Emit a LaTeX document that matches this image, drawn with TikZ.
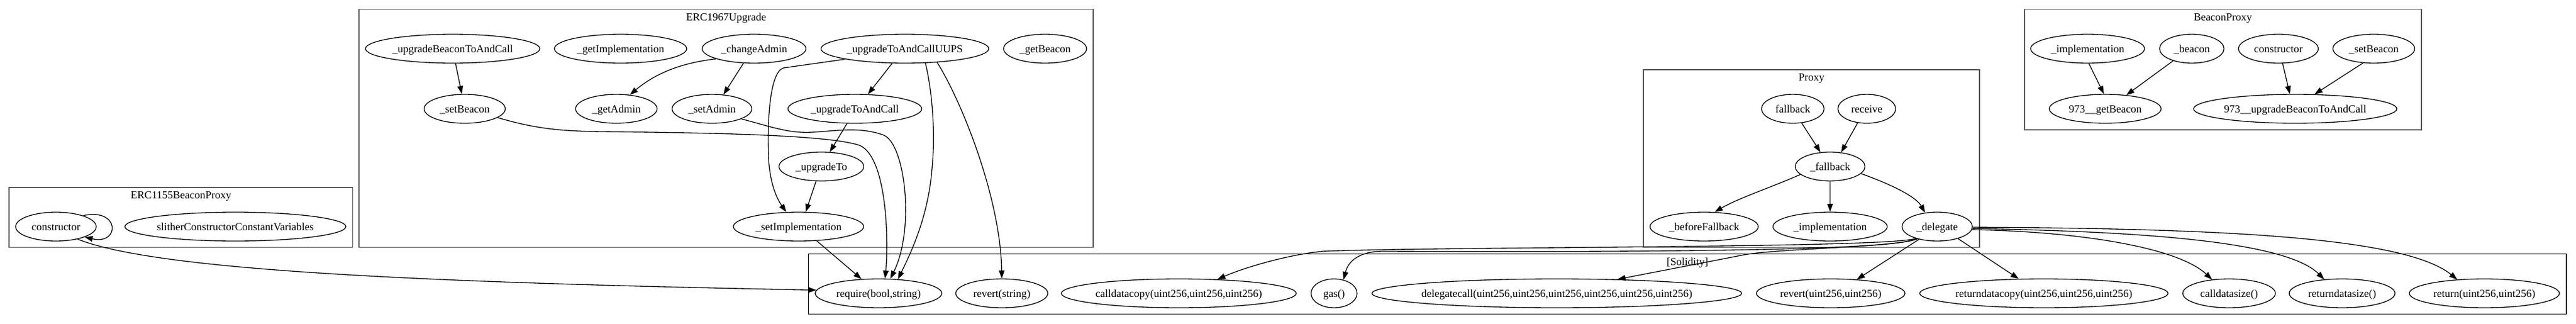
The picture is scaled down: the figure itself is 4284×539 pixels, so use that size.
\documentclass[tikz,border=0pt]{standalone}
\usepackage{fontspec}
\setmainfont{Liberation Serif}
\usetikzlibrary{arrows.meta,shapes.geometric}
\definecolor{cgray}{RGB}{85,85,85}
\newcommand\mkell[5]{\node[ell, minimum width=#4*0.75pt] (#1) at (#2,#3) {\makebox[0pt]{#5}};}
\begin{document}
\begin{tikzpicture}[x=0.75pt,y=-0.75pt,
  ell/.style={draw, ellipse, line width=1pt, minimum height=36pt, inner sep=0pt, text height=11.3pt, text depth=2.0pt, font=\fontsize{13.5pt}{16pt}\selectfont},
  clabel/.style={anchor=base, inner sep=0pt, font=\fontsize{13.5pt}{16pt}\selectfont},
  cframe/.style={draw=cgray, line width=1.4pt},
  sframe/.style={draw=black, line width=1pt},
  conn/.style={draw, line width=1pt, -{Triangle[length=10pt,width=7pt]}}]
\useasboundingbox (0,0) rectangle (4284,539);
% clusters
\draw[cframe] (15.4,311.8) rectangle (586.5,411.5);
\draw[cframe] (597,15.5) rectangle (1818,411.5);
\draw[cframe] (2733,116) rectangle (3292,411.5);
\draw[cframe] (3366.6,15.5) rectangle (4026.8,216);
\draw[sframe] (1344.8,422.5) rectangle (4268,522.5);
\node[clabel] (lab1) at (301,330.7) {ERC1155BeaconProxy};
\node[clabel] (lab2) at (1207.5,34.4) {ERC1967Upgrade};
\node[clabel] (lab3) at (3012.5,134.9) {Proxy};
\node[clabel] (lab4) at (3696.7,34.4) {BeaconProxy};
\node[clabel] (lab5) at (2806.4,441.4) {[Solidity]};
% ERC1155BeaconProxy
\mkell{e1cons}{93}{377}{134}{constructor}
\mkell{e1slither}{391.4}{377}{367.6}{slitherConstructorConstantVariables}
% ERC1967Upgrade
\mkell{upBeacon}{752.8}{81}{290}{\_upgradeBeaconToAndCall}
\mkell{getImpl}{1032}{81}{220}{\_getImplementation}
\mkell{changeAdmin}{1254}{81}{172.6}{\_changeAdmin}
\mkell{uups}{1504.8}{81}{279}{\_upgradeToAndCallUUPS}
\mkell{getBeacon}{1738}{81}{138}{\_getBeacon}
\mkell{setBeacon}{772.8}{181}{135}{\_setBeacon}
\mkell{getAdmin}{1025}{181}{135.5}{\_getAdmin}
\mkell{setAdmin}{1184}{181}{132.6}{\_setAdmin}
\mkell{upToAndCall}{1421.6}{181}{222.4}{\_upgradeToAndCall}
\mkell{upTo}{1366}{277}{141}{\_upgradeTo}
\mkell{setImpl}{1328}{377}{216.7}{\_setImplementation}
% Proxy
\mkell{fallback}{2981.5}{181}{104}{fallback}
\mkell{receive}{3104.5}{181}{96}{receive}
\mkell{pfallback}{3043.5}{277}{116}{\_fallback}
\mkell{beforeFb}{2834}{377}{180}{\_beforeFallback}
\mkell{pimpl}{3043.5}{377}{190}{\_implementation}
\mkell{delegate}{3221.6}{377}{117}{\_delegate}
% BeaconProxy
\mkell{bimpl}{3471.7}{81}{189.4}{\_implementation}
\mkell{bbeacon}{3645}{81}{107}{\_beacon}
\mkell{bcons}{3789}{81}{132.7}{constructor}
\mkell{bsetBeacon}{3947.7}{81}{136}{\_setBeacon}
\mkell{bgetBeacon}{3501}{181}{186}{973\_\_getBeacon}
\mkell{bupgrade}{3817}{181}{338}{973\_\_upgradeBeaconToAndCall}
% Solidity
\mkell{req}{1461}{488}{210.5}{require(bool,string)}
\mkell{revS}{1666}{488}{153}{revert(string)}
\mkell{cdcopy}{1960.4}{488}{390.7}{calldatacopy(uint256,uint256,uint256)}
\mkell{gas}{2218.6}{488}{76.5}{gas()}
\mkell{dcall}{2589}{488}{615}{delegatecall(uint256,uint256,uint256,uint256,uint256,uint256)}
\mkell{revUU}{3044.5}{488}{247}{revert(uint256,uint256)}
\mkell{rdcopy}{3399}{488}{413}{returndatacopy(uint256,uint256,uint256)}
\mkell{cdsize}{3707}{488}{154}{calldatasize()}
\mkell{rdsize}{3895}{488}{176}{returndatasize()}
\mkell{ret}{4131.6}{488}{249.6}{return(uint256,uint256)}
% edges ERC1155
\draw[conn] (e1cons.22) .. controls (200,345) and (200,408) .. (e1cons.-20);
\draw[conn] (e1cons.-30) .. controls (260,450) and (700,470) .. (req.177);
% edges ERC1967
\draw[conn] (upBeacon.-79) -- (setBeacon.101);
\draw[conn] (changeAdmin.195) .. controls (1140,104) and (1095,118) .. (getAdmin.46);
\draw[conn] (changeAdmin.-126) -- (setAdmin.51);
\draw[conn] (uups.190) -- (1303,113) .. controls (1280,120) and (1276,200) .. (1278,260) .. controls (1280,310) and (1295,335) .. (setImpl.130);
\draw[conn] (uups.-131) -- (upToAndCall.48);
\draw[conn] (upToAndCall.-118) -- (upTo.60);
\draw[conn] (upTo.-110) -- (setImpl.64);
\draw[conn] (setImpl.-38) -- (req.140);
\draw[conn] (setAdmin.-19) .. controls (1280,210) and (1310,222) .. (1350,220) .. controls (1390,218) and (1430,210) .. (1470,225) .. controls (1505,240) and (1522,380) .. (req.51);
\draw[conn] (setBeacon.-15) .. controls (890,214) and (930,218) .. (1000,219) .. controls (1200,221) and (1380,225) .. (1430,242) .. controls (1475,262) and (1478,400) .. (req.66);
\draw[conn] (uups.-35) .. controls (1550,150) and (1556,220) .. (1550,280) .. controls (1544,360) and (1515,420) .. (req.36);
\draw[conn] (uups.-23) .. controls (1600,170) and (1664,330) .. (revS.north);
% edges Proxy
\draw[conn] (fallback.-58) -- (pfallback.124);
\draw[conn] (receive.-123) -- (pfallback.52);
\draw[conn] (pfallback.195) .. controls (2950,310) and (2890,330) .. (beforeFb.54);
\draw[conn] (pfallback.south) -- (pimpl.north);
\draw[conn] (pfallback.-13) .. controls (3135,303) and (3185,325) .. (delegate.131);
% edges BeaconProxy
\draw[conn] (bimpl.-85) -- (bgetBeacon.95);
\draw[conn] (bbeacon.-147) -- (bgetBeacon.33);
\draw[conn] (bcons.-74) -- (bupgrade.110);
\draw[conn] (bsetBeacon.-127) -- (bupgrade.37);
% edges _delegate
\draw[conn] (delegate.-151) .. controls (3140,413) and (2400,410) .. (2200,418) .. controls (2140,424) and (2070,445) .. (cdcopy.20);
\draw[conn] (delegate.-150) .. controls (3150,420) and (2600,419) .. (2300,418) .. controls (2260,418) and (2242,435) .. (gas.55);
\draw[conn] (delegate.-148) .. controls (3150,412) and (2960,413) .. (2900,424) -- (dcall.13);
\draw[conn] (delegate.-145) -- (revUU.28);
\draw[conn] (delegate.-30) -- (rdcopy.150);
\draw[conn] (delegate.-5) .. controls (3450,385) and (3620,410) .. (cdsize.141);
\draw[conn] (delegate.-3) .. controls (3550,385) and (3800,400) .. (rdsize.142);
\draw[conn] (delegate.-1) .. controls (3700,380) and (4000,395) .. (ret.153);
\end{tikzpicture}
\end{document}
